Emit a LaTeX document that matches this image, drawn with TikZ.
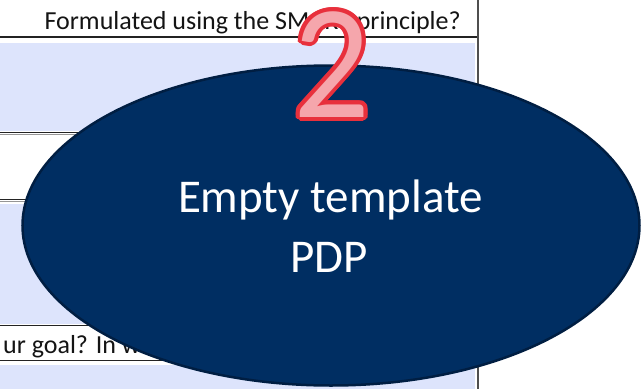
\documentclass[tikz,border=0pt]{standalone}
\usepackage{fontspec}
\setmainfont{Carlito}
\usetikzlibrary{shapes.geometric}
\definecolor{lightbl}{RGB}{221,228,252}
\definecolor{navy}{RGB}{0,46,98}
\definecolor{navyedge}{RGB}{0,30,66}
\definecolor{pinkfill}{RGB}{245,166,172}
\definecolor{redline}{RGB}{232,48,60}
\definecolor{gridline}{RGB}{35,35,35}
\definecolor{gridgrey}{RGB}{150,150,150}
\definecolor{celltext}{RGB}{20,20,20}
\tikzset{
  rowline/.style={draw=gridline, line width=1.3pt},
  rowshade/.style={draw=gridgrey, line width=1pt},
  colline/.style={draw=gridline!80, line width=1.2pt},
  celltxt/.style={inner sep=0pt, anchor=base, text=celltext, font=\fontsize{26}{30}\selectfont},
  ovaltxt/.style={inner sep=0pt, anchor=base, text=white, font=\fontsize{47}{60}\selectfont},
  digit/.style={inner sep=0pt, anchor=base, font=\fontsize{163}{163}\selectfont},
  oval/.style={ellipse, draw=navyedge, line width=2.5pt, fill=navy, inner sep=0pt}
}
\newcommand{\bignum}{\scalebox{0.93}[1]{2}}
\begin{document}
\begin{tikzpicture}[x=1pt,y=-1pt]
\useasboundingbox (0,0) rectangle (641,389);
\fill[white] (0,0) rectangle (641,389);
% light blue cells
\fill[lightbl] (0,43) rectangle (475,131);
\fill[lightbl] (0,204) rectangle (475,324);
\fill[lightbl] (0,365) rectangle (475,389);
% table lines
\draw[rowline] (0,37) -- (478,37);
\draw[rowline] (0,132.7) -- (478,132.7);
\draw[rowshade] (0,134.9) -- (478,134.9);
\draw[rowline] (0,199.3) -- (478,199.3);
\draw[rowshade] (0,201.6) -- (478,201.6);
\draw[rowline] (0,325.8) -- (478,325.8);
\draw[rowline] (0,360.6) -- (478,360.6);
\draw[colline] (478,0) -- (478,389);
% cell texts
\node[celltxt, anchor=base east] (q1) at (461,29.3) {Formulated using the SMART principle?};
\node[celltxt, anchor=base west] (q2) at (3,353) {ur goal? In w};
% oval
\node[oval, minimum width=617pt, minimum height=320pt] (pdp) at (331,225.5) {};
\node[ovaltxt] (l1) at (330.5,212.7) {Empty template};
\node[ovaltxt] (l2) at (329,272.7) {PDP};
% number 2 with red outline
\foreach \a [count=\i] in {0,22.5,...,337.5}
  \path (332,117) ++(\a:4) node[digit, text=redline] (rim\i) {\bignum};
\node[digit, text=pinkfill] (num) at (332,117) {\bignum};
\end{tikzpicture}
\end{document}
